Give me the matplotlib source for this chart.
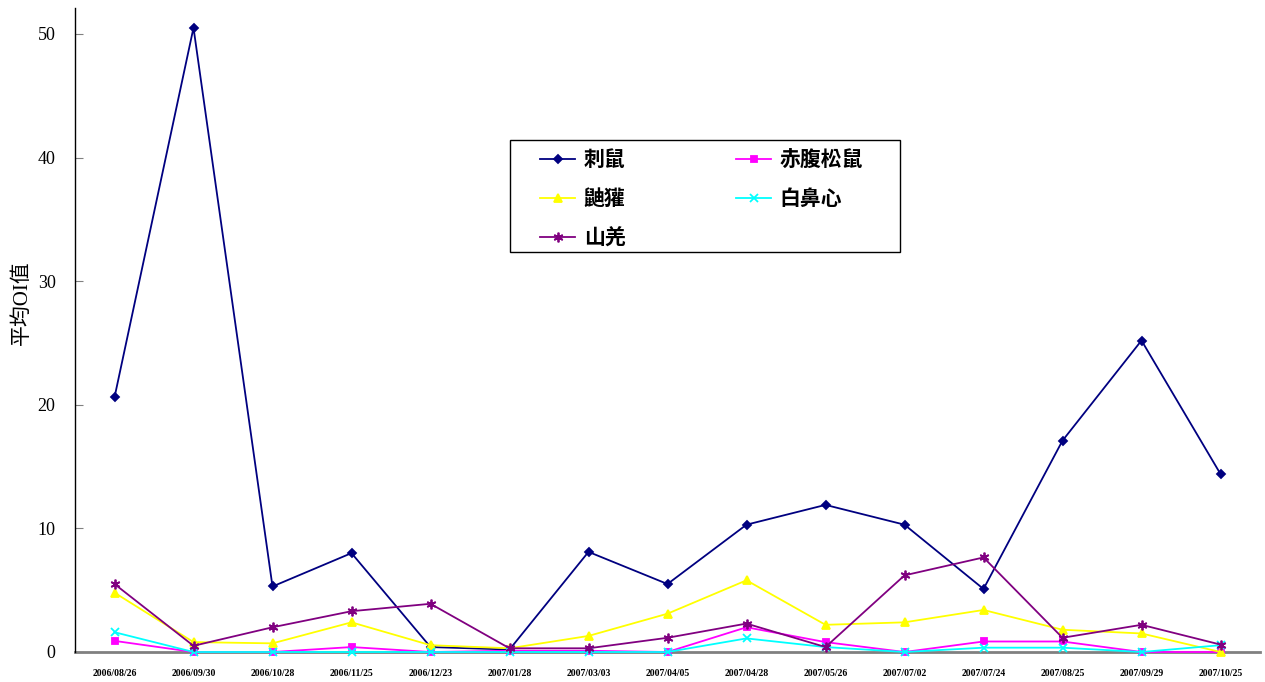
import matplotlib.pyplot as plt
from matplotlib.patches import Rectangle

dates = ["2006/08/26", "2006/09/30", "2006/10/28", "2006/11/25", "2006/12/23",
         "2007/01/28", "2007/03/03", "2007/04/05", "2007/04/28", "2007/05/26",
         "2007/07/02", "2007/07/24", "2007/08/25", "2007/09/29", "2007/10/25"]

# average OI per survey for each species
cishu = [20.6, 50.5, 5.3, 8.0, 0.4, 0.2, 8.1, 5.5, 10.3, 11.9, 10.3, 5.1, 17.1, 25.2, 14.4]
chifu = [0.9, 0.0, 0.0, 0.4, 0.0, 0.1, 0.1, 0.0, 2.0, 0.8, 0.0, 0.85, 0.85, 0.0, 0.0]
youhuan = [4.8, 0.8, 0.7, 2.4, 0.55, 0.3, 1.3, 3.1, 5.8, 2.2, 2.4, 3.4, 1.8, 1.5, 0.0]
baibixin = [1.6, 0.0, 0.0, 0.0, 0.0, 0.0, 0.0, 0.0, 1.1, 0.4, 0.0, 0.35, 0.35, 0.0, 0.55]
shanqiang = [5.5, 0.5, 2.0, 3.3, 3.9, 0.3, 0.3, 1.15, 2.3, 0.4, 6.2, 7.65, 1.15, 2.2, 0.6]

series = [
    ("刺鼠", cishu, "#000080", "D", 4),
    ("赤腹松鼠", chifu, "#FF00FF", "s", 4.5),
    ("鼬獾", youhuan, "#FFFF00", "^", 6),
    ("白鼻心", baibixin, "#00FFFF", "x", 6),
    ("山羌", shanqiang, "#800080", (6, 2, 0), 7),
]

cjk = ["Noto Sans CJK TC", "DejaVu Sans"]
serif_cjk = ["Liberation Serif", "Noto Sans CJK TC"]

W, H = 1265, 682
fig = plt.figure(figsize=(W / 100, H / 100), dpi=100)
ax = fig.add_axes([75 / W, 1 - 652 / H, 1185 / W, 644 / H])

x = list(range(len(dates)))
handles = []
for name, vals, color, marker, ms in series:
    line, = ax.plot(x, vals, color=color, marker=marker, markersize=ms,
                    markeredgewidth=1.3, linewidth=1.3, label=name, clip_on=False)
    handles.append(line)

ax.set_xlim(-0.5, len(dates) - 0.5)
ax.set_ylim(0, 52.1)
ax.set_yticks([0, 10, 20, 30, 40, 50])
ax.set_xticks(x)
ax.set_xticklabels(dates, fontfamily="Liberation Serif", fontweight="bold", fontsize=7)
for lbl in ax.get_yticklabels():
    lbl.set_fontfamily("Liberation Serif")
    lbl.set_fontsize(13)
ax.tick_params(axis="x", length=0, pad=12)
ax.tick_params(axis="y", direction="in", length=6, color="#808080", pad=14)

ax.spines["top"].set_visible(False)
ax.spines["right"].set_visible(False)
ax.spines["left"].set_color("black")
ax.spines["left"].set_linewidth(1.0)
ax.spines["bottom"].set_color("#808080")
ax.spines["bottom"].set_linewidth(2.0)
ax.spines["bottom"].set_zorder(0)

ax.set_ylabel("平均OI值", family=serif_cjk, fontsize=15)
ax.yaxis.set_label_coords(-43 / 1185, (652 - 303) / 644)

# legend box drawn separately so the side padding can be wider than the top
box = Rectangle((510 / W, 1 - 252 / H), 390 / W, 112 / H, transform=fig.transFigure,
                facecolor="white", edgecolor="black", linewidth=1.0, zorder=4)
fig.add_artist(box)

# legend rows: 刺鼠 / 赤腹松鼠, 鼬獾 / 白鼻心, 山羌
order = [0, 2, 4, 1, 3]
leg = fig.legend([handles[i] for i in order], [series[i][0] for i in order],
                 ncol=2, loc="upper left", bbox_to_anchor=(540 / W, 1 - 149 / H),
                 prop={"family": cjk, "weight": "bold", "size": 15},
                 frameon=False, handlelength=1.7, columnspacing=5.3,
                 labelspacing=0.88, borderpad=0, handletextpad=0.4, borderaxespad=0)
leg.set_zorder(5)

fig.savefig("out.png", dpi=100)
